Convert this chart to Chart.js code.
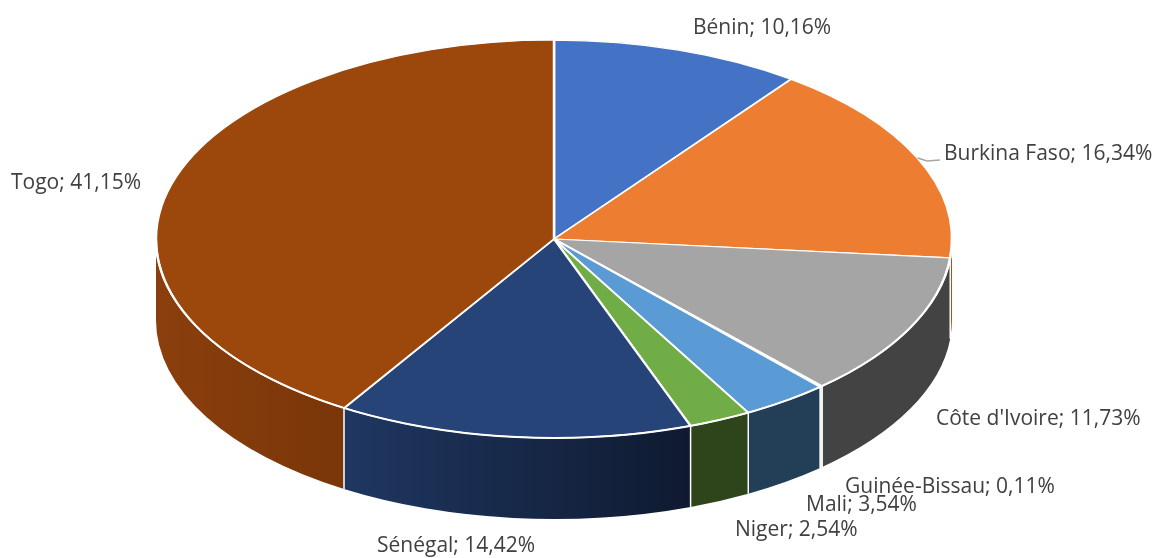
<!DOCTYPE html>
<html>
<head>
<meta charset="utf-8">
<title>Pie 3D</title>
<script src="https://cdn.jsdelivr.net/npm/chart.js@4"></script>
<style>
  html, body { margin: 0; padding: 0; background: #fff; }
  #wrap { width: 1156px; height: 558px; }
</style>
</head>
<body>
<div id="wrap"><canvas id="pie3d" width="1156" height="558"></canvas></div>
<script>
const categories = ['Bénin', 'Burkina Faso', "Côte d'Ivoire", 'Guinée-Bissau', 'Mali', 'Niger', 'Sénégal', 'Togo'];
const shares = [10.16, 16.34, 11.73, 0.11, 3.54, 2.54, 14.42, 41.15];
const topColors = ['#4472C4', '#ED7D31', '#A5A5A5', '#FFC000', '#5B9BD5', '#70AD47', '#264478', '#9C470C'];
// side wall colours, left end then right end of each slice
const wallColors = [
  ['#2f5597', '#2f5597'], ['#a5561f', '#a5561f'], ['#434343', '#434343'], ['#d9d9d0', '#d9d9d0'],
  ['#233f58', '#233f58'], ['#2e451b', '#2e451b'], ['#1f3761', '#0f1a30'], ['#8b3f0d', '#793608']
];
// where each label sits (x = left edge, y = middle of the text)
const labelSpots = [[693, 28], [944, 154], [936, 419], [845, 487], [806, 505], [735, 530], [377, 546], [11, 183]];

const squash = 0.5;
const depth = 81;

function label(i) {
  return categories[i] + '; ' + shares[i].toFixed(2).replace('.', ',') + '%';
}

const pie3d = {
  id: 'pie3d',
  beforeDatasetsDraw(chart) {
    const ctx = chart.ctx;
    const arcs = chart.getDatasetMeta(0).data;
    // front walls first, only the part of each slice facing the viewer
    arcs.forEach((arc, i) => {
      const a0 = Math.max(arc.startAngle, 0);
      const a1 = Math.min(arc.endAngle, Math.PI);
      if (a1 <= a0) return;
      const r = arc.outerRadius;
      const ry = r * squash;
      const x0 = arc.x + r * Math.cos(a0);
      const x1 = arc.x + r * Math.cos(a1);
      const grad = ctx.createLinearGradient(x0, 0, x1, 0);
      // colours go left to right on screen, a0 is the right hand end
      grad.addColorStop(0, wallColors[i][1]);
      grad.addColorStop(1, wallColors[i][0]);
      ctx.beginPath();
      ctx.ellipse(arc.x, arc.y, r, ry, 0, a0, a1);
      ctx.ellipse(arc.x, arc.y + depth, r, ry, 0, a1, a0, true);
      ctx.closePath();
      ctx.fillStyle = grad;
      ctx.fill();
      // white seam between neighbouring walls
      if (a0 > 0) {
        const y0 = arc.y + ry * Math.sin(a0);
        ctx.beginPath();
        ctx.moveTo(x0, y0);
        ctx.lineTo(x0, y0 + depth);
        ctx.strokeStyle = '#fff';
        ctx.lineWidth = 1.5;
        ctx.stroke();
      }
    });
    // squash the library's own arcs into the top face
    const c = arcs[0];
    ctx.save();
    ctx.translate(c.x, c.y);
    ctx.scale(1, squash);
    ctx.translate(-c.x, -c.y);
  },
  afterDatasetsDraw(chart) {
    const ctx = chart.ctx;
    ctx.restore();
    const arcs = chart.getDatasetMeta(0).data;
    // the squash thins the rim, so go over its front half again
    const c = arcs[0];
    ctx.beginPath();
    ctx.ellipse(c.x, c.y, c.outerRadius, c.outerRadius * squash, 0, 0, Math.PI);
    ctx.strokeStyle = '#fff';
    ctx.lineWidth = 2;
    ctx.stroke();
    // leader line of the Burkina Faso label
    const b = arcs[1];
    const mid = (b.startAngle + b.endAngle) / 2;
    ctx.beginPath();
    ctx.moveTo(b.x + b.outerRadius * Math.cos(mid), b.y + b.outerRadius * squash * Math.sin(mid));
    ctx.lineTo(927, 161);
    ctx.lineTo(940, 160);
    ctx.strokeStyle = '#a6a6a6';
    ctx.lineWidth = 1.5;
    ctx.stroke();
    // data labels
    ctx.font = '21px "Open Sans"';
    ctx.fillStyle = '#404040';
    ctx.textAlign = 'left';
    ctx.textBaseline = 'middle';
    categories.forEach((name, i) => ctx.fillText(label(i), labelSpots[i][0], labelSpots[i][1]));
  }
};

new Chart(document.getElementById('pie3d'), {
  type: 'pie',
  data: {
    labels: categories,
    datasets: [{
      data: shares,
      backgroundColor: topColors,
      borderColor: '#fff',
      borderWidth: 2.5,
      clip: false
    }]
  },
  options: {
    responsive: false,
    animation: false,
    radius: 398,
    layout: { padding: { right: 48, bottom: 80 } },
    plugins: { legend: { display: false }, tooltip: { enabled: false } }
  },
  plugins: [pie3d]
});
</script>
</body>
</html>
